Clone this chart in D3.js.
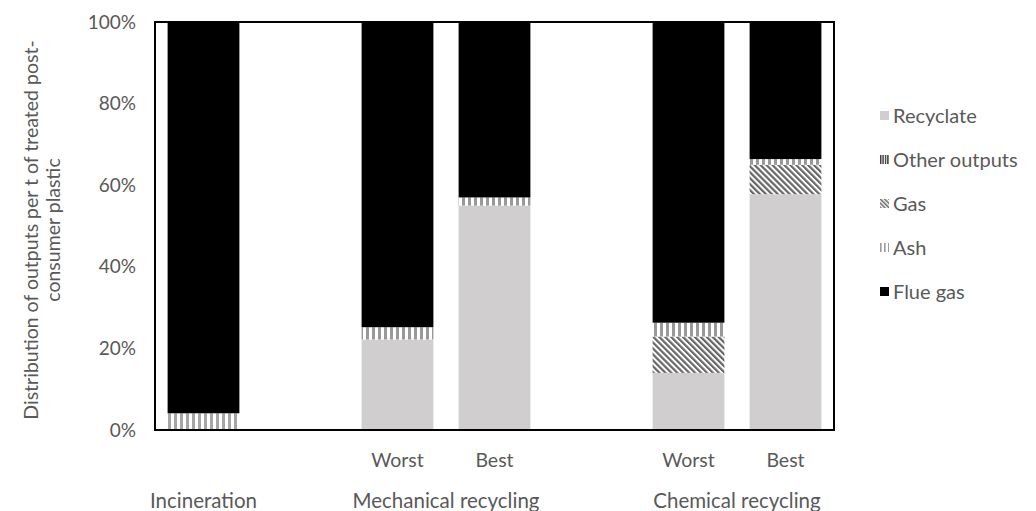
<!DOCTYPE html>
<html>
<head>
<meta charset="utf-8">
<script src="https://cdn.jsdelivr.net/npm/d3@7"></script>
<style>
  html, body { margin: 0; padding: 0; background: #fff; }
  svg { display: block; }
  text { font-family: Lato, "Open Sans", sans-serif; fill: #595959; }
</style>
</head>
<body>
<svg id="chart" width="1036" height="511"></svg>
<script>
// ---- data (percent of outputs) ----
const slots = ["incineration", "gap1", "mechWorst", "mechBest", "gap2", "chemWorst", "chemBest"];
const subLabels = ["", "", "Worst", "Best", "", "Worst", "Best"];
const groupLabels = ["Incineration", "Mechanical recycling", "Chemical recycling"];
const groupSlots = [["incineration"], ["mechWorst", "mechBest"], ["chemWorst", "chemBest"]];

const recyclate    = [0,    0, 22.2, 55.0, 0, 14.0, 57.8];
const ash          = [4.1,  0, 0,    0,    0, 0,    0];
const gas          = [0,    0, 0,    0,    0, 8.9,  7.2];
const otherOutputs = [0,    0, 3.0,  2.0,  0, 3.4,  1.4];
const flueGas      = [95.9, 0, 74.8, 43.0, 0, 73.7, 33.6];

const seriesNames = ["Recyclate", "Ash", "Gas", "Other outputs", "Flue gas"];
const legendOrder = ["Recyclate", "Other outputs", "Gas", "Ash", "Flue gas"];
const yTicks = [0, 20, 40, 60, 80, 100];

const seriesValues = {
  "Recyclate": recyclate,
  "Ash": ash,
  "Gas": gas,
  "Other outputs": otherOutputs,
  "Flue gas": flueGas
};
const rows = slots.map((s, i) => {
  const r = { slot: s };
  seriesNames.forEach(n => r[n] = seriesValues[n][i]);
  return r;
});

// ---- layout ----
const svg = d3.select("#chart");
const plot = { left: 155, right: 834, top: 22, bottom: 430 };

const x = d3.scaleBand().domain(slots).range([plot.left, plot.right])
  .paddingInner(0.26).paddingOuter(0.13);
const y = d3.scaleLinear().domain([0, 100]).range([plot.bottom, plot.top]);

// ---- patterns ----
const defs = svg.append("defs");
function stripes(id, w, stripeW, color) {
  const p = defs.append("pattern").attr("id", id).attr("patternUnits", "userSpaceOnUse")
    .attr("width", w).attr("height", 10);
  p.append("rect").attr("width", w).attr("height", 10).attr("fill", "#fff");
  p.append("rect").attr("x", 0).attr("width", stripeW).attr("height", 10).attr("fill", color);
}
stripes("pOther", 6, 3, "#999999");
stripes("pAsh", 6, 3, "#a6a6a6");
stripes("pOtherLeg", 2.4, 1.4, "#3a3a3a");
stripes("pAshLeg", 4, 1.6, "#9a9a9a");
function hatch(id, w, lw, color) {
  const p = defs.append("pattern").attr("id", id).attr("patternUnits", "userSpaceOnUse")
    .attr("width", w).attr("height", w).attr("patternTransform", "rotate(-45)");
  p.append("rect").attr("width", w).attr("height", w).attr("fill", "#fff");
  p.append("rect").attr("width", lw).attr("height", w).attr("fill", color);
}
hatch("pGas", 4.2, 2.2, "#666666");
hatch("pGasLeg", 3, 1.5, "#666666");

const fills = {
  "Recyclate": "#d0cece",
  "Ash": "url(#pAsh)",
  "Gas": "url(#pGas)",
  "Other outputs": "url(#pOther)",
  "Flue gas": "#000000"
};
const legFills = {
  "Recyclate": "#d0cece",
  "Ash": "url(#pAshLeg)",
  "Gas": "url(#pGasLeg)",
  "Other outputs": "url(#pOtherLeg)",
  "Flue gas": "#000000"
};

// ---- bars ----
const stacked = d3.stack().keys(seriesNames)(rows);
svg.append("g").selectAll("g").data(stacked).join("g")
  .attr("fill", d => fills[d.key])
  .selectAll("rect").data(d => d.filter(v => v[1] - v[0] > 0)).join("rect")
  .attr("x", d => x(d.data.slot))
  .attr("width", x.bandwidth())
  .attr("y", d => y(d[1]))
  .attr("height", d => y(d[0]) - y(d[1]));

// ---- frame ----
svg.append("rect")
  .attr("x", plot.left).attr("y", plot.top)
  .attr("width", plot.right - plot.left).attr("height", plot.bottom - plot.top)
  .attr("fill", "none").attr("stroke", "#000").attr("stroke-width", 2);

// ---- y axis ----
const yAxis = svg.append("g").attr("transform", `translate(${plot.left},0)`)
  .call(d3.axisLeft(y).tickValues(yTicks).tickFormat(d => d + "%").tickSize(0).tickPadding(19));
yAxis.select(".domain").remove();
yAxis.selectAll("text").attr("font-size", 19).attr("fill", "#595959")
  .style("font-family", "Lato, sans-serif");

// ---- x axis (sub labels) ----
const xAxis = svg.append("g").attr("transform", `translate(0,${plot.bottom})`)
  .call(d3.axisBottom(x).tickFormat((d, i) => subLabels[i]).tickSize(0).tickPadding(23));
xAxis.select(".domain").remove();
xAxis.selectAll("text").attr("font-size", 19.5).attr("fill", "#595959")
  .style("font-family", "Lato, sans-serif");

// ---- group labels ----
svg.append("g").selectAll("text").data(groupLabels).join("text")
  .attr("x", (d, i) => {
    const s = groupSlots[i];
    return (x(s[0]) + x(s[s.length - 1]) + x.bandwidth()) / 2;
  })
  .attr("y", 508)
  .attr("text-anchor", "middle")
  .attr("font-size", 20.5)
  .text(d => d);

// ---- y axis title ----
const yTitle = svg.append("text")
  .attr("transform", `translate(0,230) rotate(-90)`)
  .attr("text-anchor", "middle").attr("font-size", 19.5);
yTitle.append("tspan").attr("x", 0).attr("y", 38).text("Distribution of outputs per t of treated post-");
yTitle.append("tspan").attr("x", 0).attr("y", 60).text("consumer plastic");

// ---- legend ----
const leg = svg.append("g").selectAll("g").data(legendOrder).join("g")
  .attr("transform", (d, i) => `translate(880,${116 + i * 44})`);
leg.append("rect").attr("x", 0).attr("y", -5).attr("width", 9).attr("height", 9)
  .attr("fill", d => legFills[d]);
leg.append("text").attr("x", 13).attr("y", 0).attr("dy", "0.35em")
  .attr("font-size", 20).text(d => d);
</script>
</body>
</html>
